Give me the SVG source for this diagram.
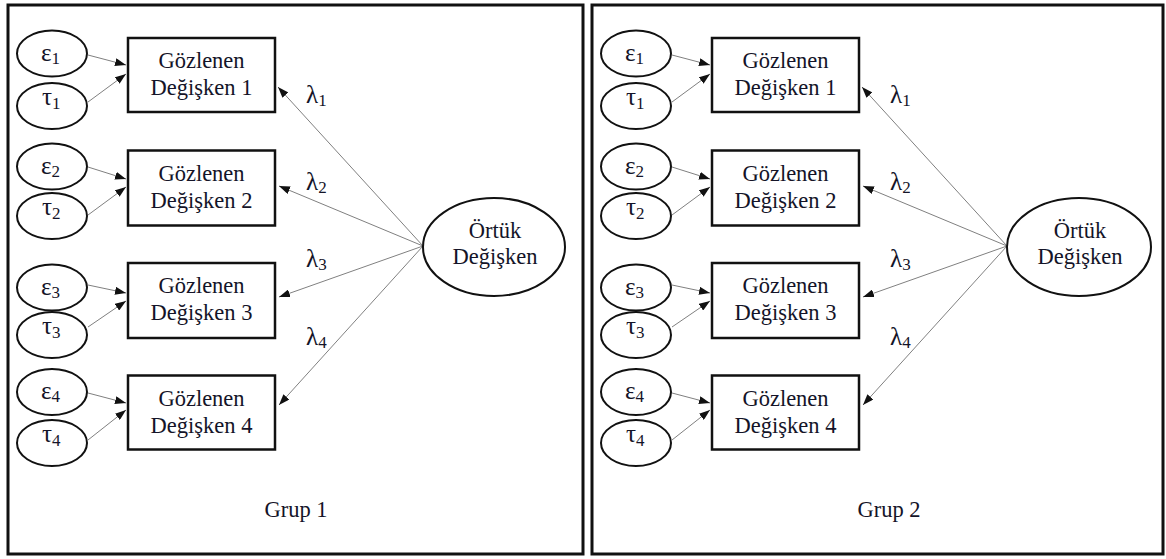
<svg xmlns="http://www.w3.org/2000/svg" width="1166" height="559" viewBox="0 0 1166 559">
  <style>
    .panel { fill: #fff; stroke: #111; stroke-width: 3; }
    .box { fill: #fff; stroke: #111; stroke-width: 2.5; }
    .oval { fill: #fff; stroke: #111; stroke-width: 2; }
    .txt { font-family: "Liberation Serif", "Times New Roman", serif; font-size: 22.5px; fill: #141428; text-anchor: middle; }
    .sym { font-family: "Liberation Serif", "Times New Roman", serif; font-size: 25px; fill: #141428; }
    .sub { font-size: 17px; }
    .edge { stroke: #808080; stroke-width: 1; fill: none; marker-end: url(#head); }
  </style>
  <defs>
    <marker id="head" markerUnits="userSpaceOnUse" markerWidth="11" markerHeight="8" refX="11" refY="4" orient="auto">
      <path d="M0,0 L11,4 L0,8 z" fill="#111"/>
    </marker>
  </defs>

  <rect width="1166" height="559" fill="#fff"/>

  <!-- Group 1 -->
  <rect id="frame-1" class="panel" x="8" y="5" width="575" height="549"/>

  <g id="g1-connectors">
    <line class="edge" x1="88" y1="55" x2="126" y2="65"/>
    <line class="edge" x1="88" y1="102" x2="126" y2="74"/>
    <line class="edge" x1="88" y1="167" x2="126" y2="179"/>
    <line class="edge" x1="88" y1="215" x2="126" y2="187"/>
    <line class="edge" x1="88" y1="285" x2="126" y2="293"/>
    <line class="edge" x1="88" y1="327" x2="126" y2="301"/>
    <line class="edge" x1="88" y1="393" x2="126" y2="403"/>
    <line class="edge" x1="88" y1="440" x2="126" y2="410"/>
    <line class="edge" x1="423" y1="246" x2="278" y2="87"/>
    <line class="edge" x1="423" y1="246" x2="279" y2="186"/>
    <line class="edge" x1="423" y1="246" x2="279" y2="297"/>
    <line class="edge" x1="423" y1="246" x2="279" y2="405"/>
  </g>

  <g id="g1-eps1"><ellipse class="oval" cx="52" cy="53.5" rx="35" ry="23"/><text class="sym" x="41" y="61">ε<tspan class="sub" dy="3">1</tspan></text></g>
  <g id="g1-tau1"><ellipse class="oval" cx="52" cy="106" rx="35" ry="23"/><text class="sym" x="42" y="105">τ<tspan class="sub" dy="4">1</tspan></text></g>
  <g id="g1-eps2"><ellipse class="oval" cx="52" cy="166.5" rx="35" ry="23"/><text class="sym" x="41" y="174">ε<tspan class="sub" dy="3">2</tspan></text></g>
  <g id="g1-tau2"><ellipse class="oval" cx="52" cy="216" rx="35" ry="23"/><text class="sym" x="42" y="215">τ<tspan class="sub" dy="4">2</tspan></text></g>
  <g id="g1-eps3"><ellipse class="oval" cx="52" cy="287.5" rx="35" ry="23"/><text class="sym" x="41" y="295">ε<tspan class="sub" dy="3">3</tspan></text></g>
  <g id="g1-tau3"><ellipse class="oval" cx="52" cy="335" rx="35" ry="23"/><text class="sym" x="42" y="334">τ<tspan class="sub" dy="4">3</tspan></text></g>
  <g id="g1-eps4"><ellipse class="oval" cx="52" cy="392" rx="35" ry="23"/><text class="sym" x="41" y="399">ε<tspan class="sub" dy="3">4</tspan></text></g>
  <g id="g1-tau4"><ellipse class="oval" cx="52" cy="443" rx="35" ry="23"/><text class="sym" x="42" y="442">τ<tspan class="sub" dy="4">4</tspan></text></g>

  <g id="g1-obs1"><rect class="box" x="128" y="38" width="147" height="74"/><text class="txt" x="201.5" y="68">Gözlenen</text><text class="txt" x="201.5" y="95">Değişken 1</text></g>
  <g id="g1-obs2"><rect class="box" x="128" y="150.5" width="147" height="75"/><text class="txt" x="201.5" y="181">Gözlenen</text><text class="txt" x="201.5" y="208">Değişken 2</text></g>
  <g id="g1-obs3"><rect class="box" x="128" y="263" width="147" height="75"/><text class="txt" x="201.5" y="293">Gözlenen</text><text class="txt" x="201.5" y="320">Değişken 3</text></g>
  <g id="g1-obs4"><rect class="box" x="128" y="375.5" width="147" height="74"/><text class="txt" x="201.5" y="406">Gözlenen</text><text class="txt" x="201.5" y="433">Değişken 4</text></g>

  <g id="g1-latent"><ellipse class="oval" cx="494" cy="247" rx="71" ry="49"/><text class="txt" x="495" y="238">Örtük</text><text class="txt" x="495" y="264">Değişken</text></g>

  <g id="g1-loadings">
    <text class="sym" x="306" y="103">λ<tspan class="sub" dy="3">1</tspan></text>
    <text class="sym" x="306" y="190">λ<tspan class="sub" dy="3">2</tspan></text>
    <text class="sym" x="306" y="267">λ<tspan class="sub" dy="3">3</tspan></text>
    <text class="sym" x="306" y="345">λ<tspan class="sub" dy="3">4</tspan></text>
  </g>
  <text id="g1-label" class="txt" x="296" y="517">Grup 1</text>

  <!-- Group 2 -->
  <rect id="frame-2" class="panel" x="592" y="5" width="571" height="549"/>

  <g id="g2-connectors">
    <line class="edge" x1="672" y1="55" x2="710" y2="65"/>
    <line class="edge" x1="672" y1="102" x2="710" y2="74"/>
    <line class="edge" x1="672" y1="167" x2="710" y2="179"/>
    <line class="edge" x1="672" y1="215" x2="710" y2="187"/>
    <line class="edge" x1="672" y1="285" x2="710" y2="293"/>
    <line class="edge" x1="672" y1="327" x2="710" y2="301"/>
    <line class="edge" x1="672" y1="393" x2="710" y2="403"/>
    <line class="edge" x1="672" y1="440" x2="710" y2="410"/>
    <line class="edge" x1="1007" y1="246" x2="862" y2="87"/>
    <line class="edge" x1="1007" y1="246" x2="863" y2="186"/>
    <line class="edge" x1="1007" y1="246" x2="863" y2="297"/>
    <line class="edge" x1="1007" y1="246" x2="863" y2="405"/>
  </g>

  <g id="g2-eps1"><ellipse class="oval" cx="636" cy="53.5" rx="35" ry="23"/><text class="sym" x="625" y="61">ε<tspan class="sub" dy="3">1</tspan></text></g>
  <g id="g2-tau1"><ellipse class="oval" cx="636" cy="106" rx="35" ry="23"/><text class="sym" x="626" y="105">τ<tspan class="sub" dy="4">1</tspan></text></g>
  <g id="g2-eps2"><ellipse class="oval" cx="636" cy="166.5" rx="35" ry="23"/><text class="sym" x="625" y="174">ε<tspan class="sub" dy="3">2</tspan></text></g>
  <g id="g2-tau2"><ellipse class="oval" cx="636" cy="216" rx="35" ry="23"/><text class="sym" x="626" y="215">τ<tspan class="sub" dy="4">2</tspan></text></g>
  <g id="g2-eps3"><ellipse class="oval" cx="636" cy="287.5" rx="35" ry="23"/><text class="sym" x="625" y="295">ε<tspan class="sub" dy="3">3</tspan></text></g>
  <g id="g2-tau3"><ellipse class="oval" cx="636" cy="335" rx="35" ry="23"/><text class="sym" x="626" y="334">τ<tspan class="sub" dy="4">3</tspan></text></g>
  <g id="g2-eps4"><ellipse class="oval" cx="636" cy="392" rx="35" ry="23"/><text class="sym" x="625" y="399">ε<tspan class="sub" dy="3">4</tspan></text></g>
  <g id="g2-tau4"><ellipse class="oval" cx="636" cy="443" rx="35" ry="23"/><text class="sym" x="626" y="442">τ<tspan class="sub" dy="4">4</tspan></text></g>

  <g id="g2-obs1"><rect class="box" x="712" y="38" width="147" height="74"/><text class="txt" x="785.5" y="68">Gözlenen</text><text class="txt" x="785.5" y="95">Değişken 1</text></g>
  <g id="g2-obs2"><rect class="box" x="712" y="150.5" width="147" height="75"/><text class="txt" x="785.5" y="181">Gözlenen</text><text class="txt" x="785.5" y="208">Değişken 2</text></g>
  <g id="g2-obs3"><rect class="box" x="712" y="263" width="147" height="75"/><text class="txt" x="785.5" y="293">Gözlenen</text><text class="txt" x="785.5" y="320">Değişken 3</text></g>
  <g id="g2-obs4"><rect class="box" x="712" y="375.5" width="147" height="74"/><text class="txt" x="785.5" y="406">Gözlenen</text><text class="txt" x="785.5" y="433">Değişken 4</text></g>

  <g id="g2-latent"><ellipse class="oval" cx="1079" cy="247" rx="72" ry="49"/><text class="txt" x="1080" y="238">Örtük</text><text class="txt" x="1080" y="264">Değişken</text></g>

  <g id="g2-loadings">
    <text class="sym" x="890" y="103">λ<tspan class="sub" dy="3">1</tspan></text>
    <text class="sym" x="890" y="190">λ<tspan class="sub" dy="3">2</tspan></text>
    <text class="sym" x="890" y="267">λ<tspan class="sub" dy="3">3</tspan></text>
    <text class="sym" x="890" y="345">λ<tspan class="sub" dy="3">4</tspan></text>
  </g>
  <text id="g2-label" class="txt" x="889" y="517">Grup 2</text>
</svg>
